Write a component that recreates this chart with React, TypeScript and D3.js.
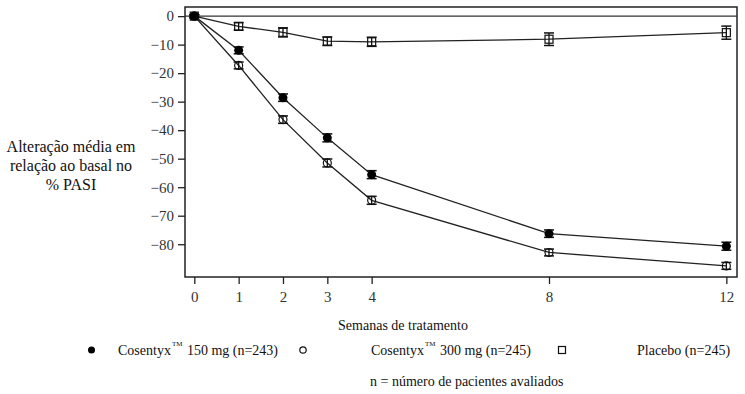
import React, { useRef, useEffect } from 'react';
import * as d3 from 'd3';

const weeks = [0, 1, 2, 3, 4, 8, 12];
const cos150 = [0, -12.0, -28.6, -42.7, -55.6, -76.3, -80.7];
const cos150Err = [0.5, 1.2, 1.3, 1.4, 1.4, 1.3, 1.4];
const cos300 = [0, -17.3, -36.3, -51.5, -64.6, -82.9, -87.6];
const cos300Err = [0.5, 1.2, 1.3, 1.4, 1.4, 1.2, 1.2];
const placebo = [0, -3.6, -5.7, -8.8, -9.0, -8.1, -5.8];
const placeboErr = [0.5, 1.3, 1.6, 1.5, 1.6, 2.2, 2.3];
const yTicks = [0, -10, -20, -30, -40, -50, -60, -70, -80];

const FONT = "'Liberation Serif', 'DejaVu Serif', serif";

const App = () => {
  const svgRef = useRef(null);

  useEffect(() => {
    const svgEl = d3.select(svgRef.current);
    svgEl.selectAll('*').remove();
    const svg = svgEl.append('g').style('font-family', FONT);

    const x = d3.scaleLinear().domain([-0.21, 12.24]).range([185, 737]);
    const y = d3.scaleLinear().domain([-91.5, 3.2]).range([277, 7]);

    // frame
    svg.append('rect')
      .attr('x', 185).attr('y', 7).attr('width', 552).attr('height', 270)
      .attr('fill', 'none').attr('stroke', '#222').attr('stroke-width', 1.5);

    // zero reference line
    svg.append('line')
      .attr('x1', 185).attr('x2', 737)
      .attr('y1', y(0)).attr('y2', y(0))
      .attr('stroke', '#333').attr('stroke-width', 1.3);

    const yAxis = svg.append('g')
      .attr('transform', 'translate(185,0)')
      .call(d3.axisLeft(y).tickValues(yTicks).tickSize(7).tickPadding(4));
    yAxis.attr('font-family', null).attr('font-size', null);
    yAxis.select('.domain').remove();
    yAxis.selectAll('line').attr('stroke', '#222').attr('stroke-width', 1.3);
    yAxis.selectAll('text')
      .style('font-family', FONT).style('font-size', '15px').attr('fill', '#333');

    const xAxis = svg.append('g')
      .attr('transform', 'translate(0,277)')
      .call(d3.axisBottom(x).tickValues(weeks).tickSize(7).tickPadding(7));
    xAxis.attr('font-family', null).attr('font-size', null);
    xAxis.select('.domain').remove();
    xAxis.selectAll('line').attr('stroke', '#222').attr('stroke-width', 1.3);
    xAxis.selectAll('text')
      .style('font-family', FONT).style('font-size', '15px').attr('fill', '#333');

    const series = [
      { vals: placebo, err: placeboErr, kind: 'square' },
      { vals: cos300, err: cos300Err, kind: 'open' },
      { vals: cos150, err: cos150Err, kind: 'filled' },
    ];

    const line = d3.line<number>()
      .x((_, i) => x(weeks[i]))
      .y((d) => y(d));

    series.forEach((s) => {
      svg.append('path')
        .attr('d', line(s.vals))
        .attr('fill', 'none')
        .attr('stroke', '#222')
        .attr('stroke-width', 1.3);

      const g = svg.append('g');
      s.vals.forEach((v, i) => {
        const cx = x(weeks[i]);
        const cy = y(v);
        const top = y(v + s.err[i]);
        const bot = y(v - s.err[i]);
        g.append('line').attr('x1', cx).attr('x2', cx).attr('y1', top).attr('y2', bot)
          .attr('stroke', '#111').attr('stroke-width', 1.3);
        [top, bot].forEach((yy) => {
          g.append('line').attr('x1', cx - 5).attr('x2', cx + 5).attr('y1', yy).attr('y2', yy)
            .attr('stroke', '#111').attr('stroke-width', 1.5);
        });
        if (s.kind === 'square') {
          g.append('rect').attr('x', cx - 4).attr('y', cy - 4).attr('width', 8).attr('height', 8)
            .attr('fill', 'none').attr('stroke', '#111').attr('stroke-width', 1.2);
        } else if (s.kind === 'open') {
          g.append('circle').attr('cx', cx).attr('cy', cy).attr('r', 4)
            .attr('fill', 'none').attr('stroke', '#111').attr('stroke-width', 1.2);
        } else {
          g.append('circle').attr('cx', cx).attr('cy', cy).attr('r', 4.5)
            .attr('fill', '#000');
        }
      });
    });

    const txt = (sel: any, size: number) =>
      sel.style('font-family', FONT).style('font-size', size + 'px').attr('fill', '#111');

    // y title
    const yTitle = ['Alteração média em', 'relação ao basal no', '% PASI'];
    yTitle.forEach((t, i) => {
      txt(svg.append('text'), 16)
        .attr('x', 71).attr('y', 152 + i * 19)
        .attr('text-anchor', 'middle')
        .text(t);
    });

    // x title
    txt(svg.append('text'), 14)
      .attr('x', 403).attr('y', 330)
      .attr('text-anchor', 'middle')
      .text('Semanas de tratamento');

    // legend
    const ly = 355;
    svg.append('circle').attr('cx', 91.5).attr('cy', ly - 5).attr('r', 3.5).attr('fill', '#000');
    svg.append('circle').attr('cx', 303).attr('cy', ly - 5).attr('r', 3.2)
      .attr('fill', 'none').attr('stroke', '#111').attr('stroke-width', 1.2);
    svg.append('rect').attr('x', 558.5).attr('y', ly - 8.5).attr('width', 7).attr('height', 7)
      .attr('fill', 'none').attr('stroke', '#111').attr('stroke-width', 1.2);

    const legendText = [
      { x: 118, label: '150 mg (n=243)', tm: true },
      { x: 371, label: '300 mg (n=245)', tm: true },
      { x: 637, label: 'Placebo (n=245)', tm: false },
    ];
    legendText.forEach((d) => {
      const t = txt(svg.append('text'), 14).attr('x', d.x).attr('y', ly);
      if (d.tm) {
        t.append('tspan').text('Cosentyx');
        t.append('tspan').attr('dy', -9).attr('dx', 1).style('font-size', '7px').text('TM');
        t.append('tspan').attr('dy', 9).attr('dx', 1).text(' ' + d.label);
      } else {
        t.text(d.label);
      }
    });

    txt(svg.append('text'), 14)
      .attr('x', 370).attr('y', 386)
      .text('n = número de pacientes avaliados');
  }, []);

  return (
    <svg ref={svgRef} width={745} height={394}
      style={{ position: 'absolute', left: 0, top: 0, background: '#fff' }} />
  );
};

export default App;
